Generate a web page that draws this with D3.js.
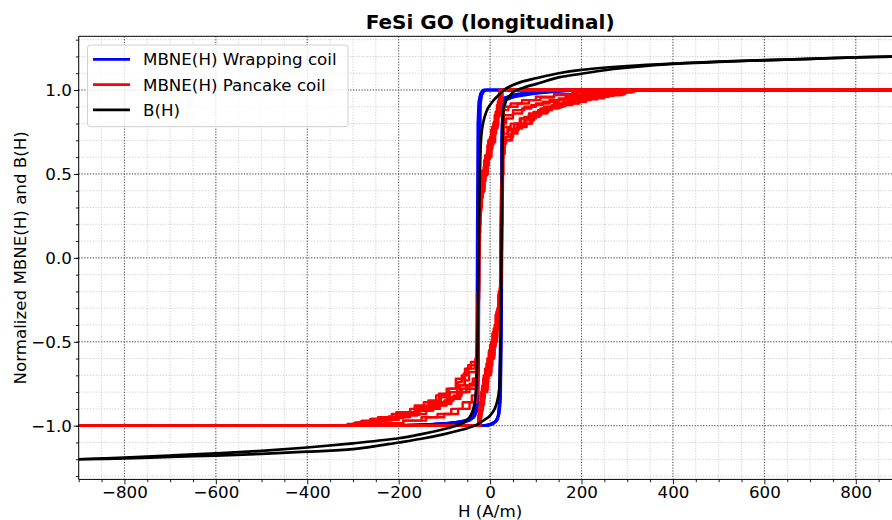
<!DOCTYPE html>
<html><head><meta charset="utf-8">
<script src="https://cdn.jsdelivr.net/npm/d3@7"></script>
<style>body{margin:0;background:#fff} svg{display:block} text{font-family:"DejaVu Sans",sans-serif;fill:#000}</style>
</head><body><svg id="c" width="892" height="520"></svg>
<script>
// ---------------- data ----------------
const xMajorTicks = [-800,-600,-400,-200,0,200,400,600,800];
const xMinorTicks = d3.range(-900, 901, 50);
const yMajorTicks = [-1.0,-0.5,0.0,0.5,1.0];
const yMinorTicks = [-1.3,-1.2,-1.1,-1.0,-0.9,-0.8,-0.7,-0.6,-0.5,-0.4,-0.3,-0.2,-0.1,0,0.1,0.2,0.3,0.4,0.5,0.6,0.7,0.8,0.9,1.0,1.1,1.2,1.3];
const seriesNames = ["MBNE(H) Wrapping coil","MBNE(H) Pancake coil","B(H)"];

// B(H) descending and ascending branches
const bhDesc = [[900,1.2],[800,1.195],[700,1.186],[600,1.178],[500,1.169],[400,1.158],[300,1.143],[200,1.12],[150,1.1],[100,1.07],[70,1.05],[50,1.03],[30,1.0],[15,0.96],[5,0.93],[-5,0.89],[-12,0.84],[-17,0.78],[-20,0.7],[-22,0.55],[-23,0.4],[-24,0.2],[-25,0.0],[-26,-0.2],[-27,-0.4],[-28,-0.6],[-30,-0.75],[-33,-0.85],[-38,-0.91],[-45,-0.95],[-60,-0.985],[-80,-1.005],[-100,-1.02],[-150,-1.05],[-200,-1.075],[-300,-1.105],[-400,-1.13],[-500,-1.15],[-600,-1.165],[-700,-1.178],[-800,-1.19],[-900,-1.2]];
const bhAsc = [[-900,-1.2],[-800,-1.195],[-700,-1.186],[-600,-1.178],[-500,-1.168],[-400,-1.155],[-300,-1.14],[-200,-1.1],[-150,-1.078],[-100,-1.05],[-70,-1.03],[-50,-1.015],[-30,-0.995],[-15,-0.97],[0,-0.94],[10,-0.9],[16,-0.85],[20,-0.78],[22,-0.65],[23,-0.45],[24,-0.2],[25,0.05],[26,0.35],[27,0.7],[28,0.82],[30,0.9],[35,0.94],[45,0.97],[51,0.99],[80,1.02],[100,1.035],[150,1.075],[200,1.097],[270,1.125],[366,1.15],[500,1.168],[600,1.177],[700,1.186],[800,1.194],[900,1.2]];

// MBNE(H) wrapping coil cycles
const blueDesc = [
 [[900,1],[-10,1],[-16,0.99],[-20,0.96],[-22,0.9],[-23,0.6],[-24,0.2],[-25,-0.2],[-26,-0.5],[-27,-0.75],[-29,-0.88],[-33,-0.94],[-45,-0.97],[-80,-0.985],[-150,-0.995],[-250,-1],[-900,-1]],
 [[900,1],[-14,1],[-19,0.985],[-23,0.95],[-25,0.85],[-26,0.5],[-27,0.0],[-28,-0.5],[-29,-0.8],[-31,-0.9],[-38,-0.95],[-60,-0.975],[-110,-0.99],[-200,-1],[-900,-1]],
 [[900,1],[-8,1],[-14,0.99],[-18,0.97],[-21,0.92],[-22,0.7],[-23,0.3],[-24,-0.1],[-25,-0.6],[-26,-0.82],[-28,-0.9],[-35,-0.95],[-55,-0.98],[-120,-0.99],[-220,-1],[-900,-1]],
 [[900,1],[-12,1],[-17,0.99],[-21,0.96],[-24,0.88],[-25,0.4],[-26,-0.1],[-27,-0.6],[-28,-0.85],[-30,-0.92],[-40,-0.96],[-70,-0.98],[-140,-0.995],[-260,-1],[-900,-1]],
 [[900,1],[-16,1],[-21,0.98],[-25,0.93],[-27,0.8],[-28,0.3],[-29,-0.3],[-30,-0.7],[-31,-0.87],[-34,-0.93],[-45,-0.965],[-90,-0.985],[-180,-1],[-900,-1]]
];
const blueAsc = [
 [[-900,-1],[-8,-1],[5,-0.99],[15,-0.97],[19,-0.92],[21,-0.8],[22,-0.5],[23,-0.1],[24,0.3],[25,0.6],[26,0.8],[28,0.92],[32,0.955],[50,0.965],[90,0.98],[140,0.992],[220,1],[900,1]],
 [[-900,-1],[-12,-1],[2,-0.99],[12,-0.975],[18,-0.94],[21,-0.85],[23,-0.4],[24,0.1],[25,0.5],[26,0.75],[28,0.9],[31,0.95],[45,0.97],[80,0.985],[130,0.995],[180,1],[900,1]],
 [[-900,-1],[-5,-1],[8,-0.985],[17,-0.96],[21,-0.9],[23,-0.7],[24,-0.3],[25,0.2],[26,0.55],[27,0.78],[29,0.9],[34,0.945],[55,0.96],[100,0.98],[160,0.995],[230,1],[900,1]],
 [[-900,-1],[-15,-1],[0,-0.99],[10,-0.98],[17,-0.95],[20,-0.88],[22,-0.6],[23,-0.2],[24,0.25],[25,0.65],[27,0.86],[30,0.93],[40,0.96],[70,0.975],[120,0.99],[200,1],[900,1]],
 [[-900,-1],[-10,-1],[6,-0.99],[14,-0.97],[20,-0.93],[23,-0.85],[25,-0.5],[26,0],[27,0.45],[28,0.72],[30,0.88],[35,0.94],[60,0.97],[110,0.985],[170,1],[900,1]]
];

// MBNE(H) pancake coil cycles
const redAsc = [
 [[-900,-1],[-30,-1],[-26,-0.94],[-22,-0.86],[-17,-0.76],[-10,-0.66],[-3,-0.56],[5,-0.45],[12,-0.34],[18,-0.22],[22,-0.08],[24,0.25],[26,0.55],[28,0.72],[40,0.76],[58,0.8],[75,0.84],[95,0.87],[118,0.9],[140,0.92],[170,0.94],[205,0.96],[240,0.975],[280,0.99],[305,1],[900,1]],
 [[-900,-1],[-27,-1],[-24,-0.9],[-20,-0.8],[-14,-0.7],[-6,-0.6],[2,-0.5],[10,-0.4],[16,-0.3],[21,-0.18],[24,0.1],[26,0.5],[28,0.8],[35,0.83],[50,0.86],[70,0.89],[90,0.91],[115,0.93],[150,0.95],[185,0.97],[230,0.985],[265,1],[900,1]],
 [[-900,-1],[-25,-1],[-22,-0.93],[-18,-0.84],[-12,-0.72],[-4,-0.62],[4,-0.52],[12,-0.4],[17,-0.3],[21,-0.2],[23,0],[25,0.4],[27,0.66],[29,0.7],[45,0.74],[60,0.78],[80,0.8],[88,0.83],[100,0.86],[125,0.89],[150,0.91],[180,0.93],[210,0.95],[250,0.97],[290,0.985],[300,1],[900,1]],
 [[-900,-1],[-29,-1],[-25,-0.92],[-21,-0.82],[-15,-0.72],[-8,-0.63],[0,-0.52],[8,-0.42],[14,-0.32],[19,-0.22],[22,-0.12],[24,0.2],[26,0.7],[28,0.88],[40,0.9],[60,0.92],[85,0.94],[110,0.955],[140,0.97],[180,0.985],[220,1],[900,1]],
 [[-900,-1],[-26,-1],[-23,-0.95],[-19,-0.87],[-13,-0.78],[-5,-0.68],[3,-0.58],[10,-0.47],[16,-0.36],[20,-0.25],[23,-0.1],[25,0.3],[27,0.6],[29,0.78],[45,0.8],[65,0.83],[85,0.85],[105,0.88],[130,0.9],[160,0.92],[195,0.945],[235,0.965],[270,0.98],[295,1],[900,1]],
 [[-900,-1],[-28,-1],[-24,-0.9],[-18,-0.78],[-11,-0.66],[-2,-0.55],[7,-0.44],[14,-0.33],[19,-0.2],[23,0.0],[25,0.45],[27,0.75],[30,0.85],[50,0.88],[75,0.9],[100,0.92],[130,0.94],[165,0.96],[200,0.975],[245,0.99],[270,1],[900,1]],
 [[-900,-1],[-24,-1],[-21,-0.91],[-16,-0.8],[-9,-0.7],[-1,-0.6],[7,-0.49],[13,-0.39],[18,-0.28],[22,-0.15],[24,0.15],[26,0.45],[28,0.68],[35,0.72],[50,0.76],[62,0.79],[78,0.82],[96,0.85],[112,0.88],[135,0.905],[165,0.93],[200,0.955],[240,0.97],[285,0.985],[310,1],[900,1]],
 [[-900,-1],[-27,-1],[-23,-0.92],[-19,-0.83],[-12,-0.74],[-4,-0.64],[5,-0.53],[12,-0.43],[18,-0.31],[22,-0.18],[24,0.05],[26,0.4],[28,0.62],[32,0.7],[48,0.75],[55,0.77],[70,0.8],[92,0.84],[108,0.87],[128,0.895],[155,0.92],[185,0.94],[220,0.96],[260,0.975],[295,0.99],[315,1],[900,1]],
 [[-900,-1],[-25,-1],[-22,-0.88],[-17,-0.77],[-10,-0.67],[-2,-0.57],[6,-0.46],[13,-0.36],[19,-0.24],[23,-0.05],[25,0.35],[27,0.78],[30,0.9],[45,0.92],[70,0.94],[100,0.96],[140,0.975],[190,0.99],[240,1],[900,1]],
 [[-900,-1],[-28,-1],[-25,-0.96],[-20,-0.88],[-14,-0.8],[-6,-0.7],[2,-0.6],[9,-0.5],[15,-0.38],[20,-0.26],[23,-0.12],[25,0.2],[27,0.5],[29,0.74],[38,0.77],[52,0.8],[68,0.83],[85,0.86],[110,0.89],[135,0.91],[160,0.93],[190,0.95],[225,0.97],[262,0.985],[290,1],[900,1]]
];
const redDesc = [
 [[900,1],[30,1],[27,0.95],[23,0.88],[17,0.8],[10,0.71],[2,0.62],[-6,0.52],[-13,0.42],[-18,0.32],[-21,0.2],[-23,0],[-25,-0.3],[-27,-0.55],[-29,-0.62],[-42,-0.66],[-55,-0.76],[-66,-0.8],[-88,-0.83],[-108,-0.86],[-131,-0.89],[-160,-0.93],[-200,-0.96],[-240,-0.975],[-283,-0.99],[-300,-1],[-900,-1]],
 [[900,1],[27,1],[24,0.92],[20,0.84],[13,0.74],[5,0.65],[-3,0.55],[-10,0.46],[-16,0.36],[-21,0.25],[-23,0.05],[-25,-0.35],[-27,-0.7],[-30,-0.78],[-45,-0.8],[-65,-0.84],[-85,-0.87],[-110,-0.9],[-140,-0.93],[-175,-0.95],[-215,-0.97],[-260,-0.99],[-280,-1],[-900,-1]],
 [[900,1],[25,1],[22,0.93],[17,0.85],[10,0.76],[2,0.67],[-6,0.58],[-13,0.49],[-18,0.4],[-22,0.3],[-24,0.1],[-26,-0.3],[-28,-0.6],[-32,-0.64],[-48,-0.69],[-58,-0.72],[-75,-0.78],[-95,-0.82],[-118,-0.86],[-145,-0.9],[-175,-0.93],[-215,-0.96],[-260,-0.98],[-290,-1],[-900,-1]],
 [[900,1],[29,1],[26,0.93],[22,0.85],[16,0.77],[8,0.68],[0,0.59],[-8,0.5],[-15,0.42],[-20,0.34],[-22,0.15],[-24,-0.2],[-26,-0.6],[-28,-0.82],[-40,-0.86],[-60,-0.9],[-85,-0.93],[-115,-0.95],[-150,-0.97],[-190,-0.985],[-230,-1],[-900,-1]],
 [[900,1],[26,1],[23,0.95],[19,0.87],[12,0.78],[4,0.7],[-4,0.61],[-11,0.52],[-17,0.43],[-21,0.33],[-23,0.1],[-25,-0.25],[-27,-0.58],[-30,-0.75],[-45,-0.78],[-62,-0.82],[-80,-0.85],[-100,-0.88],[-125,-0.91],[-155,-0.935],[-190,-0.955],[-230,-0.975],[-270,-0.99],[-285,-1],[-900,-1]],
 [[900,1],[28,1],[24,0.9],[18,0.79],[11,0.69],[3,0.6],[-5,0.5],[-12,0.4],[-18,0.3],[-22,0.15],[-24,-0.15],[-26,-0.5],[-28,-0.72],[-35,-0.76],[-52,-0.8],[-72,-0.84],[-95,-0.88],[-125,-0.91],[-160,-0.94],[-200,-0.965],[-240,-0.985],[-265,-1],[-900,-1]],
 [[900,1],[24,1],[21,0.91],[15,0.81],[8,0.72],[0,0.63],[-7,0.54],[-14,0.45],[-19,0.36],[-22,0.22],[-24,0],[-26,-0.35],[-28,-0.62],[-33,-0.66],[-50,-0.7],[-62,-0.74],[-70,-0.78],[-90,-0.81],[-112,-0.85],[-135,-0.88],[-165,-0.92],[-205,-0.95],[-245,-0.97],[-280,-0.985],[-298,-1],[-900,-1]],
 [[900,1],[26,1],[23,0.93],[19,0.84],[13,0.75],[5,0.66],[-3,0.56],[-11,0.46],[-17,0.36],[-21,0.26],[-23,0.05],[-25,-0.3],[-27,-0.6],[-31,-0.68],[-46,-0.73],[-56,-0.76],[-72,-0.8],[-92,-0.83],[-110,-0.87],[-130,-0.895],[-156,-0.92],[-185,-0.945],[-222,-0.96],[-262,-0.98],[-295,-0.99],[-312,-1],[-900,-1]],
 [[900,1],[24,1],[21,0.88],[16,0.78],[9,0.69],[1,0.6],[-7,0.49],[-14,0.39],[-19,0.28],[-22,0.1],[-24,-0.25],[-26,-0.65],[-28,-0.86],[-45,-0.9],[-70,-0.93],[-100,-0.95],[-140,-0.97],[-190,-0.99],[-240,-1],[-900,-1]],
 [[900,1],[29,1],[26,0.96],[21,0.89],[15,0.8],[7,0.71],[-1,0.61],[-9,0.51],[-15,0.41],[-20,0.29],[-23,0.12],[-25,-0.2],[-27,-0.5],[-29,-0.72],[-38,-0.76],[-52,-0.8],[-68,-0.83],[-85,-0.86],[-110,-0.89],[-135,-0.91],[-160,-0.93],[-190,-0.95],[-225,-0.97],[-262,-0.985],[-290,-1],[-900,-1]]
];

// ---------------- chart ----------------
const W = 892, H = 520;
const L = 78.7, R = 901.5, T = 36.3, B = 479.4;
const svg = d3.select("#c");
const x = d3.scaleLinear().domain([-900, 900]).range([L, R]);
const y = d3.scaleLinear().domain([-1.32, 1.32]).range([B, T]);
const FS = 16.7;

svg.append("defs").append("clipPath").attr("id","clip")
  .append("rect").attr("x",L).attr("y",T).attr("width",R-L).attr("height",B-T);

// grid
const grid = svg.append("g").attr("clip-path","url(#clip)");
grid.selectAll(".gxm").data(xMinorTicks).join("line")
  .attr("x1",d=>x(d)).attr("x2",d=>x(d)).attr("y1",T).attr("y2",B)
  .attr("stroke","#c8c8c8").attr("stroke-width",0.9).attr("stroke-dasharray","1.2,1.6");
grid.selectAll(".gym").data(yMinorTicks).join("line")
  .attr("y1",d=>y(d)).attr("y2",d=>y(d)).attr("x1",L).attr("x2",R)
  .attr("stroke","#c8c8c8").attr("stroke-width",0.9).attr("stroke-dasharray","1.2,1.6");
grid.selectAll(".gxM").data(xMajorTicks).join("line")
  .attr("x1",d=>x(d)).attr("x2",d=>x(d)).attr("y1",T).attr("y2",B)
  .attr("stroke","#444").attr("stroke-width",0.9).attr("stroke-dasharray","1.2,1.6");
grid.selectAll(".gyM").data(yMajorTicks).join("line")
  .attr("y1",d=>y(d)).attr("y2",d=>y(d)).attr("x1",L).attr("x2",R)
  .attr("stroke","#444").attr("stroke-width",0.9).attr("stroke-dasharray","1.2,1.6");

const plot = svg.append("g").attr("clip-path","url(#clip)");
const lineLin = d3.line().x(d=>x(d[0])).y(d=>y(d[1]));
const lineStep = d3.line().x(d=>x(d[0])).y(d=>y(d[1])).curve(d3.curveStepAfter);
const lineSmooth = d3.line().x(d=>x(d[0])).y(d=>y(d[1])).curve(d3.curveCatmullRom.alpha(0.5));

// blue
blueAsc.concat(blueDesc).forEach(s=>{
  plot.append("path").attr("d",lineLin(s)).attr("fill","none")
    .attr("stroke","#0000ff").attr("stroke-width",2.6).attr("stroke-linejoin","round");
});
// red
redAsc.concat(redDesc).forEach(s=>{
  plot.append("path").attr("d",lineStep(s)).attr("fill","none")
    .attr("stroke","#ff0000").attr("stroke-width",2.4).attr("stroke-linejoin","round");
});
// black
[bhDesc, bhAsc].forEach(s=>{
  plot.append("path").attr("d",lineSmooth(s)).attr("fill","none")
    .attr("stroke","#000").attr("stroke-width",2.7).attr("stroke-linejoin","round");
});

// axes
const fmtX = d3.format("d"), fmtY = d3.format(".1f");
const gx = svg.append("g").attr("transform",`translate(0,${B})`)
  .call(d3.axisBottom(x).tickValues(xMinorTicks.filter(v=>!xMajorTicks.includes(v))).tickSize(2.8).tickFormat(""));
const gx2 = svg.append("g").attr("transform",`translate(0,${B})`)
  .call(d3.axisBottom(x).tickValues(xMajorTicks).tickSize(4.9).tickPadding(1.5).tickFormat(fmtX));
const gy = svg.append("g").attr("transform",`translate(${L},0)`)
  .call(d3.axisLeft(y).tickValues(yMinorTicks).tickSize(2.8).tickFormat(""));
const gy2 = svg.append("g").attr("transform",`translate(${L},0)`)
  .call(d3.axisLeft(y).tickValues(yMajorTicks).tickSize(4.9).tickPadding(2).tickFormat(fmtY));
[gx,gx2,gy,gy2].forEach(g=>{
  g.select(".domain").remove();
  g.selectAll("line").attr("stroke","#000").attr("stroke-width",0.9);
  g.selectAll("text").attr("font-size",FS).attr("font-family","DejaVu Sans").attr("fill","#000");
});

// spines
svg.append("line").attr("x1",L).attr("x2",L).attr("y1",T).attr("y2",B).attr("stroke","#000").attr("stroke-width",1);
svg.append("line").attr("x1",L).attr("x2",W).attr("y1",B).attr("y2",B).attr("stroke","#000").attr("stroke-width",1);
svg.append("line").attr("x1",L).attr("x2",W).attr("y1",T).attr("y2",T).attr("stroke","#000").attr("stroke-width",1);

// labels
svg.append("text").attr("x",(L+R)/2).attr("y",29).attr("text-anchor","middle")
  .attr("font-size",20).attr("font-weight","bold").text("FeSi GO (longitudinal)");
svg.append("text").attr("x",(L+R)/2).attr("y",517).attr("text-anchor","middle")
  .attr("font-size",FS).text("H (A/m)");
svg.append("text").attr("transform",`translate(26,${(T+B)/2}) rotate(-90)`).attr("text-anchor","middle")
  .attr("font-size",FS).text("Normalized MBNE(H) and B(H)");

// legend
const lg = svg.append("g");
lg.append("rect").attr("x",87.5).attr("y",45).attr("width",260.5).attr("height",81.7).attr("rx",3)
  .attr("fill","#fff").attr("fill-opacity",0.8).attr("stroke","#d0d0d0").attr("stroke-width",1);
const legColors = ["#0000ff","#ff0000","#000"];
seriesNames.forEach((n,i)=>{
  const yy = 59.3 + i*25.3;
  lg.append("line").attr("x1",93).attr("x2",130).attr("y1",yy).attr("y2",yy)
    .attr("stroke",legColors[i]).attr("stroke-width",2.8);
  lg.append("text").attr("x",143).attr("y",yy+6).attr("font-size",FS).text(n);
});
</script></body></html>
